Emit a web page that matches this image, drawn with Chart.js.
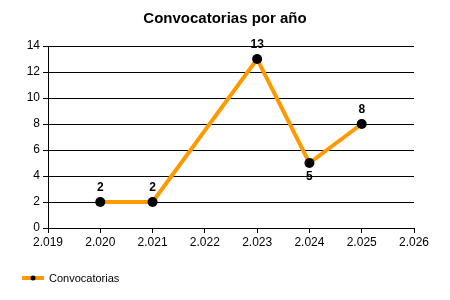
<!DOCTYPE html>
<html><head><meta charset="utf-8">
<script src="https://cdn.jsdelivr.net/npm/chart.js@4/dist/chart.umd.min.js"></script>
<style>html,body{margin:0;padding:0;background:#fff}#w{width:450px;height:300px}</style>
</head><body><div id="w"><canvas id="c"></canvas></div>
<script>
const years = [2020, 2021, 2023, 2024, 2025];
const convocatorias = [2, 2, 13, 5, 8];
const labelBelow = [false, false, false, true, false];
const seriesName = 'Convocatorias';
const titleText = 'Convocatorias por año';
const ORANGE = '#FF9900';
const FONT = '"Liberation Sans", Arial, sans-serif';

const fmt = v => { const s = String(Math.round(v)); return s.length > 3 ? s.slice(0, s.length-3) + '.' + s.slice(-3) : s; };

const labelsPlugin = {
  id: 'lbls',
  afterDatasetsDraw(chart) {
    const ctx = chart.ctx; const meta = chart.getDatasetMeta(0);
    ctx.save();
    // title centered on the full canvas
    ctx.font = 'bold 15px ' + FONT; ctx.fillStyle = '#000'; ctx.textAlign = 'center'; ctx.textBaseline = 'middle';
    ctx.fillText(titleText, chart.width / 2, 19);
    ctx.font = 'bold 12px ' + FONT;
    meta.data.forEach((pt, i) => {
      const dy = labelBelow[i] ? 14 : -14;
      ctx.fillText(String(convocatorias[i]), pt.x, pt.y + dy);
    });
    // legend
    const ly = 278;
    ctx.strokeStyle = ORANGE; ctx.lineWidth = 4;
    ctx.beginPath(); ctx.moveTo(22, ly); ctx.lineTo(44, ly); ctx.stroke();
    ctx.fillStyle = '#000'; ctx.beginPath(); ctx.arc(33, ly, 2.5, 0, Math.PI*2); ctx.fill();
    ctx.font = '11px ' + FONT; ctx.textAlign = 'left';
    ctx.fillText(seriesName, 49, ly + 1);
    ctx.restore();
  }
};

new Chart(document.getElementById('c'), {
  type: 'line',
  data: { datasets: [{
    label: seriesName,
    data: years.map((y, i) => ({x: y, y: convocatorias[i]})),
    borderColor: ORANGE, borderWidth: 4, pointRadius: 5, pointHoverRadius: 5,
    pointBackgroundColor: '#000', pointBorderColor: '#000', pointBorderWidth: 0,
    tension: 0, fill: false
  }]},
  options: {
    responsive: true, maintainAspectRatio: false, animation: false,
    events: [],
    layout: { padding: { left: 0, right: 36, top: 46, bottom: 44 } },
    plugins: {
      legend: { display: false },
      tooltip: { enabled: false },
      title: { display: false }
    },
    scales: {
      x: { type: 'linear', min: 2019, max: 2026,
        afterFit: s => { s.height = 28; },
        ticks: { stepSize: 1, callback: v => fmt(v), color: '#000', font: { family: FONT, size: 12 }, maxRotation: 0, padding: 2 },
        grid: { drawOnChartArea: false, drawTicks: true, tickLength: 5, color: '#000' },
        border: { display: true, color: '#000', width: 1 } },
      y: { min: 0, max: 14,
        afterFit: s => { s.width = 48; },
        ticks: { stepSize: 2, color: '#000', font: { family: FONT, size: 12 }, padding: 3 },
        grid: { color: '#000', lineWidth: 1, tickLength: 5 },
        border: { display: true, color: '#000', width: 1 } }
    }
  },
  plugins: [labelsPlugin]
});
</script></body></html>
